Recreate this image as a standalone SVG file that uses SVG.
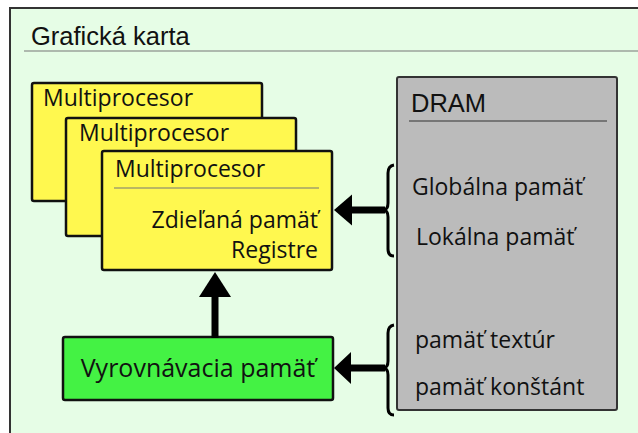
<svg xmlns="http://www.w3.org/2000/svg" width="638" height="433" viewBox="0 0 638 433">
<style>
.hdr{font-family:"Liberation Sans",Arial,sans-serif;font-size:25.5px;fill:#111}
.t{font-family:"Open Sans","Noto Sans",sans-serif;font-size:23px;fill:#111}
.mp{fill:#fff84f;stroke:#111;stroke-width:2.5}
.sep{stroke:#777;stroke-width:1.2}
.shaft{stroke:#000;stroke-width:7;fill:none}
.head{fill:#000}
.brace{stroke:#000;stroke-width:3;fill:none}
</style>
<g id="card">
<rect x="10" y="8" width="640" height="440" fill="#e6fde6" stroke="#333" stroke-width="2"/>
<text class="hdr" x="31" y="45">Grafická karta</text>
<line x1="24" y1="51" x2="638" y2="51" stroke="#777" stroke-width="1.2"/>
</g>
<g id="mp1">
<rect class="mp" x="32" y="83" width="230" height="118" rx="2"/>
<text class="t" x="43" y="106">Multiprocesor</text>
</g>
<g id="mp2">
<rect class="mp" x="66" y="118" width="230" height="118" rx="2"/>
<text class="t" x="79" y="141">Multiprocesor</text>
</g>
<g id="mp3">
<rect class="mp" x="102" y="151" width="230" height="119" rx="2"/>
<text class="t" x="115" y="177">Multiprocesor</text>
<line class="sep" x1="114" y1="188" x2="319" y2="188"/>
<text class="t" x="318" y="228" text-anchor="end">Zdieľaná pamäť</text>
<text class="t" x="318" y="258" text-anchor="end">Registre</text>
</g>
<g id="cache">
<rect x="63" y="337" width="270" height="63" rx="2" fill="#44f244" stroke="#111" stroke-width="2.5"/>
<text class="t" x="198" y="377" text-anchor="middle" style="font-size:25px">Vyrovnávacia pamäť</text>
</g>
<g id="dram">
<rect x="397" y="77" width="220" height="333" rx="2" fill="#bbbbbb" stroke="#333" stroke-width="2"/>
<text class="hdr" x="411" y="112">DRAM</text>
<line x1="409" y1="121" x2="607" y2="121" stroke="#333" stroke-width="1.2"/>
<text class="t" x="412" y="195">Globálna pamäť</text>
<text class="t" x="416" y="245">Lokálna pamäť</text>
<text class="t" x="415" y="348">pamäť textúr</text>
<text class="t" x="415" y="395">pamäť konštánt</text>
</g>
<g id="connectors">
<path class="brace" d="M394,165 Q388,166 388,173 L388,203 Q388,210 383,210 Q388,210 388,217 L388,249 Q388,256 394,256"/>
<line class="shaft" x1="350" y1="210" x2="385" y2="210"/>
<polygon class="head" points="334,210 352,194.5 352,225.5"/>
<path class="brace" d="M394,325 Q388,326 388,333 L388,361 Q388,368 383,368 Q388,368 388,375 L388,408 Q388,415 394,415"/>
<line class="shaft" x1="348" y1="368" x2="385" y2="368"/>
<polygon class="head" points="334,368 351,352 351,384"/>
<line class="shaft" x1="215" y1="295" x2="215" y2="338"/>
<polygon class="head" points="215,272 231,297 199,297"/>
</g>
</svg>
